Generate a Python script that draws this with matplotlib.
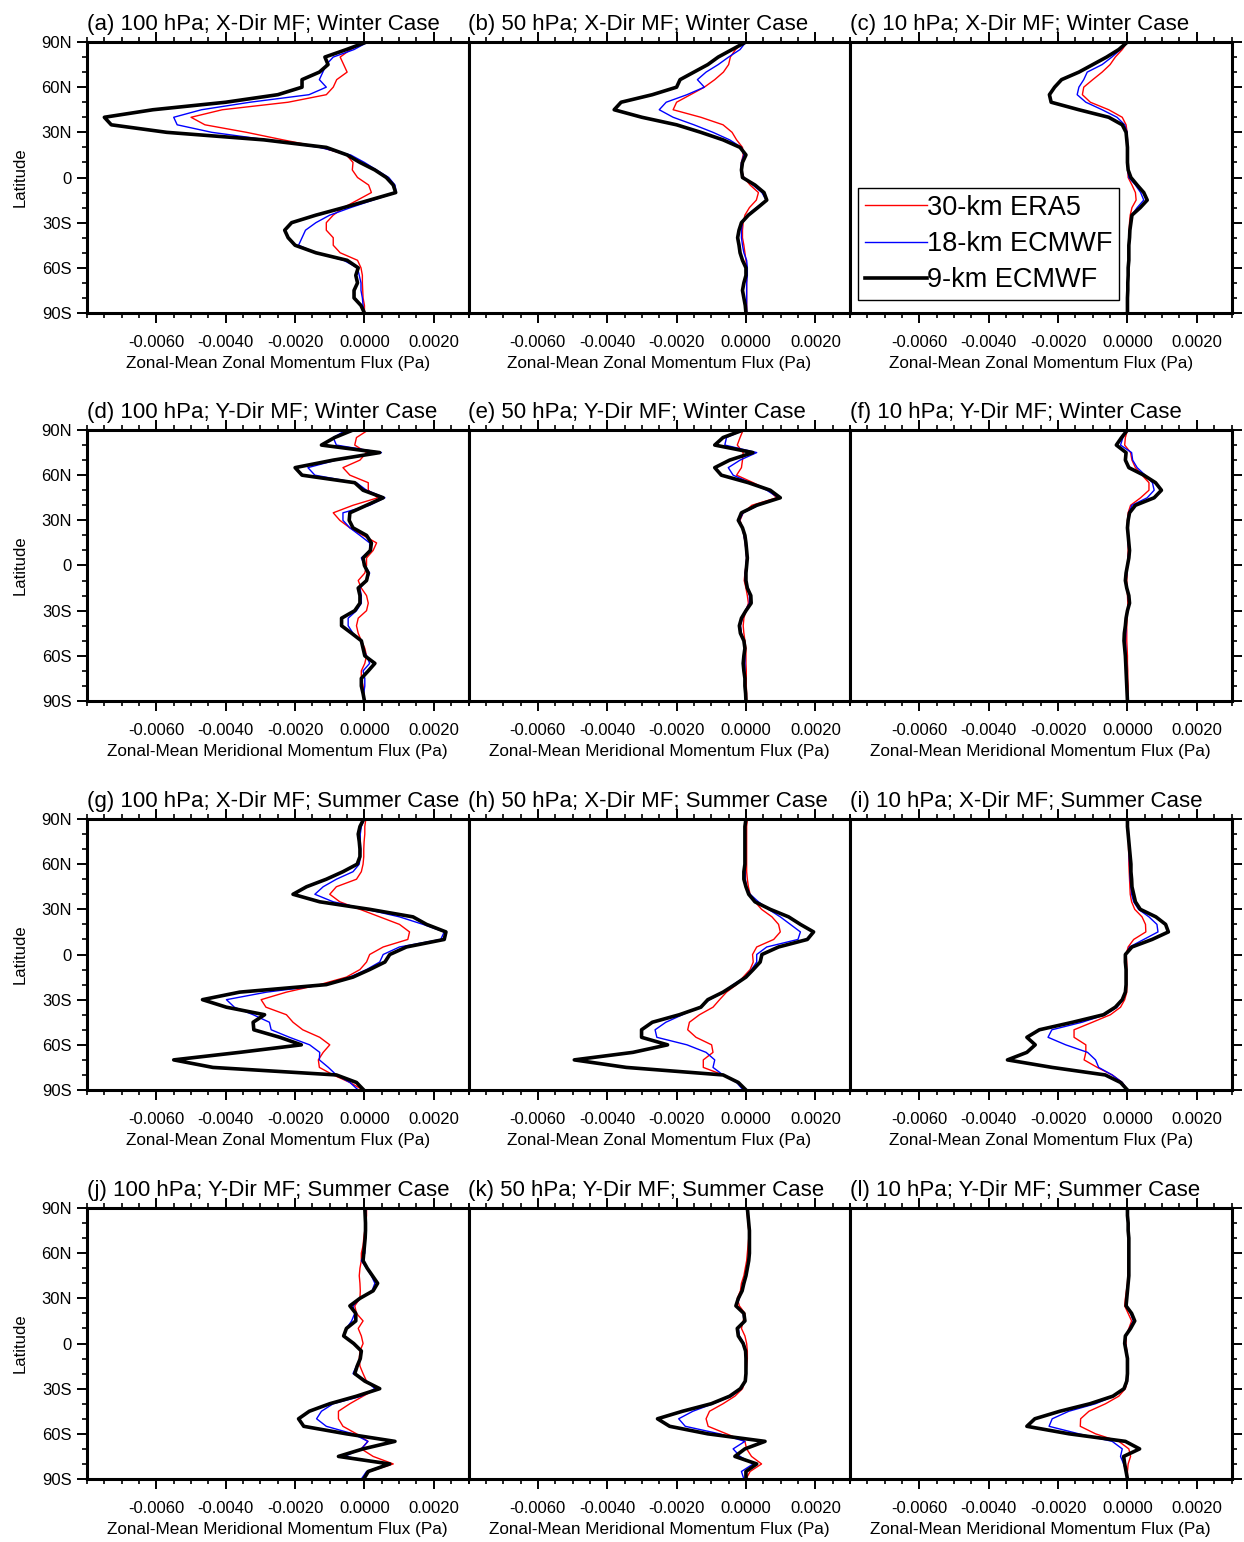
import matplotlib
matplotlib.use("Agg")
import matplotlib.pyplot as plt
import numpy as np
from matplotlib.ticker import FixedLocator, MultipleLocator, FuncFormatter

plt.rcParams['font.family'] = ['Liberation Sans', 'DejaVu Sans']
plt.rcParams['axes.unicode_minus'] = False

# latitude of each sample, 90N -> 90S
lat = np.arange(90, -91, -5)

# zonal-mean momentum flux, units of 1e-4 Pa, one value per latitude
# winter, x-direction
era5_a = [0, -4, -7, -6, -5, -8, -9, -11, -22, -41, -50, -46, -34, -23.5, -12.4, -5.2, -3.3, -3.5, -2, 1.2, 2, -2, -6, -9, -11, -11, -9, -9, -7, -2, -1, -0.6, -0.6, -0.5, -0.4, 0, 0]
ec18_a = [1, -3, -9, -11, -12, -13, -11, -16, -33, -47, -55, -54, -44, -28, -13, -4, 0, 3.5, 7, 8.8, 9.2, 2.5, -4, -10, -14, -17, -18, -19, -14, -6, -2, -1.5, -1, -1, -0.6, -0.4, 0]
ec9_a = [0.6, -5.2, -11.4, -10.5, -13, -18, -18, -25, -40, -61, -75, -73, -57, -29, -11, -5, -1.3, 3, 6.3, 8.3, 9, 1.5, -6, -14, -21, -23, -22, -20, -14, -5, -1.8, -2.5, -2, -3, -3, -1, 0]

era5_b = [-0.6, -3, -4.5, -5, -6.5, -9, -12, -16, -20, -21, -13, -6.6, -4, -2.7, -1, -0.8, -1.3, -1.3, -0.6, 1.2, 3.6, 3, 1, -0.3, -0.8, -1, -1, -0.6, -0.3, 0, 0.2, 0.2, 0.2, 0.2, 0.2, 0.2, 0.2]
ec18_b = [0, -1.7, -5, -8, -11.5, -14, -12, -17, -23, -25, -21, -15, -9.5, -4.7, -1.3, -0.6, -1.3, -1.5, -0.6, 2, 4.6, 5.8, 3, 0.4, -1, -1.3, -1.3, -1, -0.6, 0.2, 0.4, 0.4, 0.2, 0.2, 0.2, 0.2, 0.2]
ec9_b = [0, -4, -8, -11, -15, -19, -20, -27, -36, -38, -30, -20, -13, -6.6, -1.7, 0, -1, -1.3, -1, 2.6, 5.2, 6, 3.4, 0.7, -1.3, -2, -2.4, -2, -1.7, -1, 0, 0, -0.6, -1, -0.6, -0.2, 0]

era5_c = [0, -1.5, -3.5, -5, -7.3, -10, -12.6, -13, -10.7, -5.4, -1.5, -0.4, -0.1, 0, 0, 0.1, 0.1, 0.1, 0.2, 1.3, 2.3, 2.5, 1.3, 0.8, 0.6, 0.5, 0.4, 0.4, 0.3, 0.3, 0.2, 0.2, 0.1, 0.1, 0, 0, 0]
ec18_c = [0, -2, -4.5, -7.3, -11.6, -12.6, -14, -14.5, -12, -7.3, -3, -0.8, -0.1, 0, 0, 0, 0, 0.1, 0.4, 2.3, 3.8, 4.7, 2.8, 1.2, 0.9, 0.8, 0.6, 0.5, 0.4, 0.4, 0.3, 0.2, 0.2, 0.1, 0.1, 0, 0]
ec9_c = [0, -2.5, -6, -10, -14, -19, -21, -22.5, -22, -14, -5.4, -1.5, -0.4, -0.2, 0, 0, 0, 0.2, 1, 2.8, 4.7, 5.7, 3.7, 1.3, 1, 0.7, 0.6, 0.4, 0.4, 0.4, 0.2, 0.2, 0.1, 0.1, 0, 0, 0]

# winter, y-direction
era5_d = [1.1, -2.3, -2.8, 0.6, -1.3, -6.2, -4.2, 1.1, 1.1, 3.9, -3.3, -9, -7.1, -4.2, -0.4, 3.5, 2.5, 0.6, 0.6, 0.1, -1.8, -0.9, 0.6, 1.1, 0.6, -1.8, -2.3, -1.8, -0.9, 0.1, 0.6, 0.1, -0.9, -0.9, -0.4, -0.2, 0]
ec18_d = [-5.2, -9, -8.1, 4.9, -8.1, -16.3, -14.3, -2.3, 0.6, 5.9, 1.5, -6.2, -6.2, -4.2, -1.3, 1.5, 1.5, -0.9, 0.1, 1.5, 0.6, -1.3, -0.9, -0.9, -2.3, -4.7, -4.7, -3.3, -0.9, -0.4, 0.6, 1.5, -0.4, 0.1, 0.1, -0.2, 0]
ec9_d = [-3.3, -8.6, -12.4, 4.4, -9, -20, -18, -2.8, -0.4, 5.4, 0.6, -4.2, -4.4, -3.3, 0.6, 2, 1.7, -0.4, 0, 1.1, 0.6, -1.8, -1.3, -1.3, -2.8, -6.6, -6.6, -3.7, -0.9, -0.4, 0.1, 3, 1.1, -0.9, -0.9, -0.4, 0]

era5_e = [-0.8, -1.7, -2.5, -0.8, -1, -1.3, -2.7, 2.1, 6.5, 8.9, 1.7, -0.8, -1.7, -1, -0.6, -0.2, 0, 0.2, 0, -0.3, -0.5, 0, 0.4, 0.7, 0, -0.6, -0.8, -0.6, -0.3, 0, 0, 0, 0.1, 0.1, 0.1, 0.2, 0.2]
ec18_e = [-0.6, -5.6, -6.1, 3.1, -1.7, -5.1, -3.7, 1.2, 6, 9.4, 3.6, -0.8, -1.9, -1, -0.6, -0.2, 0, 0.2, 0, -0.2, -0.2, 0.4, 1, 1, -0.2, -1, -1.6, -1.3, -0.6, -0.3, -0.3, -0.3, -0.3, -0.3, -0.2, -0.1, 0]
ec9_e = [-0.8, -6.6, -9, 2, -4.7, -9, -7.1, 0.7, 7, 9.9, 3.1, -1.3, -2.2, -1, -0.3, 0, 0.2, 0.4, 0.2, 0, 0, 0.4, 1.4, 1.5, 0, -1.3, -1.9, -1.6, -0.6, -0.3, -0.6, -0.8, -0.6, -0.3, -0.3, -0.1, 0]

era5_f = [0, -0.6, -0.8, 0.9, 1.3, 2.3, 4.2, 6.2, 6.2, 3.8, 0.9, 0.2, 0, 0, 0.1, 0.2, 0.2, 0.1, 0, -0.1, -0.2, -0.1, 0, 0.1, 0, -0.1, -0.2, -0.2, -0.2, -0.1, 0, 0, 0.1, 0.1, 0.2, 0.2, 0.2]
ec18_f = [0, -1.3, -2, 1.2, 1.5, 2.8, 5.1, 7.2, 7.7, 5.7, 1.3, 0.4, 0.1, 0, 0.1, 0.2, 0.4, 0.2, 0, -0.2, -0.4, -0.2, 0.2, 0.4, 0, -0.3, -0.4, -0.5, -0.6, -0.5, -0.4, -0.3, -0.3, -0.2, -0.1, 0, 0]
ec9_f = [0, -1.7, -3.2, -0.4, -0.6, 0.4, 4.7, 8.1, 9.8, 7.7, 2.3, 0.6, 0.2, 0, 0.2, 0.4, 0.6, 0.4, 0, -0.4, -0.6, -0.2, 0.4, 0.6, 0, -0.4, -0.6, -0.9, -1, -0.8, -0.6, -0.5, -0.4, -0.3, -0.2, -0.1, 0]

# summer, x-direction
era5_g = [0.4, 0.1, 0.1, -0.1, -0.2, -0.2, -0.4, -0.9, -2.3, -8.1, -10, -7.1, -1.3, 4.4, 10.1, 13, 12.5, 5.4, 1.5, 0.6, -1.3, -5.2, -12.9, -22.5, -29.8, -28.4, -22.5, -20.6, -17.8, -12.9, -10, -11.9, -13.3, -13, -9, -4.2, -0.4]
ec18_g = [0, -0.9, -1.2, -1.2, -1.1, -1.2, -1.5, -3.3, -8.1, -11.9, -14.3, -9, 0.6, 10.1, 16.9, 23, 22, 10.1, 5.4, 4.4, 0.6, -4.2, -11, -28.2, -39.8, -37.5, -32.1, -27.4, -26.9, -21.6, -15.8, -12.9, -13, -10.4, -8.1, -4.2, -1.8]
ec9_g = [-0.2, -1.3, -1.8, -1.5, -1.3, -1.3, -2.1, -6.2, -11, -16.7, -20.6, -12.9, 1.5, 14, 17.9, 23.5, 23, 12.1, 7.3, 5.9, 1.5, -3.3, -11, -36, -46.7, -39.8, -28.8, -32.1, -31.9, -24.4, -18.2, -36, -55, -43.7, -8.1, -2.3, -0.2]

era5_h = [0.4, 0.2, 0.2, 0.2, 0.2, 0.2, 0.2, 0.2, 0.4, 0.7, 1.2, 2.6, 4.5, 7.5, 9.4, 9.9, 8, 3.1, 1.9, 2.1, 1.2, -0.8, -2.7, -5.6, -7.6, -9.5, -13.4, -16.3, -16.8, -14.4, -9.9, -9.5, -12.3, -12.3, -6.6, -2.2, 0]
ec18_h = [-0.2, -0.2, -0.2, -0.2, -0.2, -0.2, -0.2, -0.2, -0.2, 0.2, 1.2, 3.6, 6.5, 9.9, 12.8, 15.7, 15, 6, 3.1, 3.1, 1.6, -0.3, -3.7, -6.6, -10.5, -13.4, -18.3, -23.1, -26.2, -25.7, -17, -11.5, -9, -9.5, -6.6, -2.7, -0.8]
ec9_h = [0, -0.3, -0.3, -0.3, -0.3, -0.3, -0.3, -0.6, -0.6, 0, 0.8, 2.6, 7, 12.3, 15.7, 19.5, 17.7, 9.4, 4.6, 4.1, 2.1, 0, -3.2, -6.6, -11, -13, -19.2, -27, -30.1, -30.1, -22.6, -32.6, -49.5, -34.5, -6.6, -2.2, 0]

era5_i = [0, 0.1, 0.2, 0.3, 0.3, 0.4, 0.4, 0.5, 0.6, 0.7, 0.8, 1.2, 2.1, 4.2, 5.2, 5.3, 1.8, 0.2, -0.4, -0.2, -0.2, -0.2, -0.2, -0.2, -0.8, -2, -4.9, -10.1, -15.4, -15.4, -12, -12, -12.5, -8.7, -4.4, -1.5, 0]
ec18_i = [0, 0.2, 0.3, 0.4, 0.5, 0.5, 0.6, 0.7, 0.8, 1, 1.2, 1.8, 3.2, 6.2, 8.5, 8.8, 4.7, 0.6, -0.4, -0.4, -0.4, -0.4, -0.4, -0.6, -1.3, -3, -6.4, -13.1, -21.8, -22.9, -17.8, -11.5, -9.2, -8.3, -4.4, -1.5, 0]
ec9_i = [0, 0, 0.2, 0.4, 0.6, 0.8, 1, 1, 1.2, 1.3, 1.8, 2.3, 3.7, 8.2, 11, 11.8, 7.1, 1.3, -0.6, -0.6, -0.4, -0.4, -0.4, -0.6, -1.5, -3.5, -6.9, -15.8, -25.4, -29, -26.6, -29, -34.6, -21.7, -6.4, -2, 0]

# summer, y-direction
era5_j = [0.6, 0.6, 0.4, 0.1, -0.2, -0.4, -0.9, -0.9, -1.3, -1.5, -1.3, -1.2, -1.3, -2.8, -2.3, -0.4, -1.8, -0.9, -0.4, -1.3, -1.5, -1.3, -0.4, 0.6, 3.5, -0.4, -4.2, -7.5, -7.5, -6.2, -2.3, 1, -0.9, 2.5, 8.3, 1.5, -0.4]
ec18_j = [0.4, 0.3, 0.3, 0.3, 0.2, 0.1, 0.1, -0.9, 0.6, 2, 3, 2.2, -1.3, -3.3, -2.8, -3.7, -5.2, -6, -3.3, -0.9, -1.2, -2.3, -3.3, 0.6, 3, -0.9, -9, -12.4, -13.8, -11, -3.3, 1, -0.9, -5.7, 6.8, 0.6, -0.9]
ec9_j = [0.1, 0.2, 0.3, 0.3, 0.2, 0, -0.2, -0.4, 0.8, 2.3, 3.8, 2.5, -1.3, -4.2, -2.5, -2.5, -5.2, -6, -3.1, -0.9, -1.2, -2.1, -2.8, 0.1, 4.4, -2.3, -10, -15.9, -19, -17.5, -5.2, 8.8, -0.4, -7.5, 7.3, 1.1, -0.2]

era5_k = [0.2, 0.4, 0.6, 0.8, 0.8, 0.6, 0.4, 0.2, -0.2, -0.6, -1.3, -1.6, -2.5, -1.9, -0.3, -0.8, -1.3, -0.3, 0.2, 0.4, 0.4, 0.2, 0, -0.3, -1, -3.2, -6.6, -10.5, -11.5, -10.9, -5.6, -0.3, 0.2, 1.6, 4.5, 1.2, 0]
ec18_k = [0.4, 0.6, 0.8, 1, 1, 1, 1, 0.8, 0.4, 0, -0.8, -1.3, -1.9, -2.7, -0.8, -0.6, -2.2, -1.9, -0.6, 0, 0, 0, 0, -0.2, -1.3, -4.2, -9.5, -15.3, -19.4, -17.5, -7.6, -0.3, -3.7, -1.7, 2.1, -1.3, -0.6]
ec9_k = [0.4, 0.6, 0.8, 1, 1, 1, 1, 0.8, 0.4, 0, -0.6, -1.1, -2.2, -2.9, -0.6, -0.3, -2.5, -2.2, -0.8, -0.1, 0, 0, 0, -0.2, -1.6, -4.7, -10, -18.3, -25.5, -22, -11, 5.5, -0.3, -3.2, 3.1, 0, 0]

era5_l = [0, 0.1, 0.2, 0.3, 0.4, 0.4, 0.4, 0.3, 0.2, 0.1, 0, -0.3, -0.6, -0.8, 0.2, 1.2, 0.4, -0.4, -0.4, -0.2, 0, 0, 0, 0, -0.6, -2.5, -6.3, -11.1, -13.5, -13.6, -9.2, -2.5, 0.4, 0.9, 0.2, 0, 0]
ec18_l = [0, 0, 0.2, 0.2, 0.3, 0.3, 0.3, 0.3, 0.3, 0.3, 0.1, -0.1, -0.2, -0.2, 0.9, 1.7, 0.6, -0.6, -0.6, -0.2, 0, 0, 0, 0, -0.8, -3.9, -9.2, -16.9, -21.7, -22.6, -14, -4.4, -1.5, -2, -1.1, -0.4, 0]
ec9_l = [0, 0, 0.2, 0.2, 0.4, 0.4, 0.4, 0.4, 0.4, 0.4, 0.2, 0, -0.2, -0.4, 1.2, 2.1, 0.9, -0.6, -0.8, -0.4, 0, 0, 0, -0.2, -1, -4.2, -10.8, -19.5, -26.7, -29, -16.8, -0.6, 3.5, -1.1, -0.8, -0.4, 0]

titles = ["(a) 100 hPa; X-Dir MF; Winter Case", "(b) 50 hPa; X-Dir MF; Winter Case",
          "(c) 10 hPa; X-Dir MF; Winter Case", "(d) 100 hPa; Y-Dir MF; Winter Case",
          "(e) 50 hPa; Y-Dir MF; Winter Case", "(f) 10 hPa; Y-Dir MF; Winter Case",
          "(g) 100 hPa; X-Dir MF; Summer Case", "(h) 50 hPa; X-Dir MF; Summer Case",
          "(i) 10 hPa; X-Dir MF; Summer Case", "(j) 100 hPa; Y-Dir MF; Summer Case",
          "(k) 50 hPa; Y-Dir MF; Summer Case", "(l) 10 hPa; Y-Dir MF; Summer Case"]
xlabels = ["Zonal-Mean Zonal Momentum Flux (Pa)", "Zonal-Mean Meridional Momentum Flux (Pa)"]
series_labels = ["30-km ERA5", "18-km ECMWF", "9-km ECMWF"]
lat_ticks = [90, 60, 30, 0, -30, -60, -90]
lat_labels = ["90N", "60N", "30N", "0", "30S", "60S", "90S"]
flux_ticks = [-0.006, -0.004, -0.002, 0.0, 0.002]

era5 = [era5_a, era5_b, era5_c, era5_d, era5_e, era5_f, era5_g, era5_h, era5_i, era5_j, era5_k, era5_l]
ec18 = [ec18_a, ec18_b, ec18_c, ec18_d, ec18_e, ec18_f, ec18_g, ec18_h, ec18_i, ec18_j, ec18_k, ec18_l]
ec9 = [ec9_a, ec9_b, ec9_c, ec9_d, ec9_e, ec9_f, ec9_g, ec9_h, ec9_i, ec9_j, ec9_k, ec9_l]

W, H = 1244, 1542
fig = plt.figure(figsize=(W / 100, H / 100), dpi=100)

# panel frame in pixels
lefts = [87, 468.5, 850]
tops = [42, 430, 819, 1208]
pw, ph = 381.5, 271

for n in range(12):
    row, col = divmod(n, 3)
    ax = fig.add_axes([lefts[col] / W, 1 - (tops[row] + ph) / H, pw / W, ph / H])

    ax.plot(np.array(era5[n]) * 1e-4, lat, color='red', lw=1.0, label=series_labels[0])
    ax.plot(np.array(ec18[n]) * 1e-4, lat, color='blue', lw=1.0, label=series_labels[1])
    ax.plot(np.array(ec9[n]) * 1e-4, lat, color='black', lw=2.6, label=series_labels[2])

    ax.set_xlim(-0.008, 0.003)
    ax.set_ylim(-90, 90)
    ax.xaxis.set_major_locator(FixedLocator(flux_ticks))
    ax.xaxis.set_minor_locator(MultipleLocator(0.0005))
    ax.xaxis.set_major_formatter(FuncFormatter(lambda v, p: "%.4f" % v))
    ax.yaxis.set_major_locator(FixedLocator(lat_ticks))
    ax.yaxis.set_minor_locator(MultipleLocator(10))
    ax.set_yticklabels(lat_labels)

    for s in ax.spines.values():
        s.set_linewidth(2.2)
    ax.tick_params(axis='x', which='both', direction='out', top=True, bottom=True,
                   labelsize=12, pad=8.5)
    ax.tick_params(axis='y', which='both', direction='out', left=(col == 0),
                   right=(col == 2), labelleft=(col == 0), labelsize=12, pad=4)
    ax.tick_params(which='major', length=7, width=1.4)
    ax.tick_params(which='minor', length=3.6, width=1.2)

    ax.set_title(titles[n], loc='left', fontsize=16, pad=8.5)
    ax.set_xlabel(xlabels[row % 2], fontsize=12.3, labelpad=5)
    if col == 0:
        ax.set_ylabel("Latitude", fontsize=12, labelpad=10)

    if n == 2:
        leg = ax.legend(loc='upper left', bbox_to_anchor=(0.021, 0.461), borderaxespad=0,
                        fontsize=19.5, handlelength=2.3, handletextpad=0.0,
                        labelspacing=0.38, borderpad=0.25, fancybox=False, framealpha=1)
        leg.get_frame().set_edgecolor('black')
        leg.get_frame().set_linewidth(1.0)

fig.savefig("out.png", dpi=100)
